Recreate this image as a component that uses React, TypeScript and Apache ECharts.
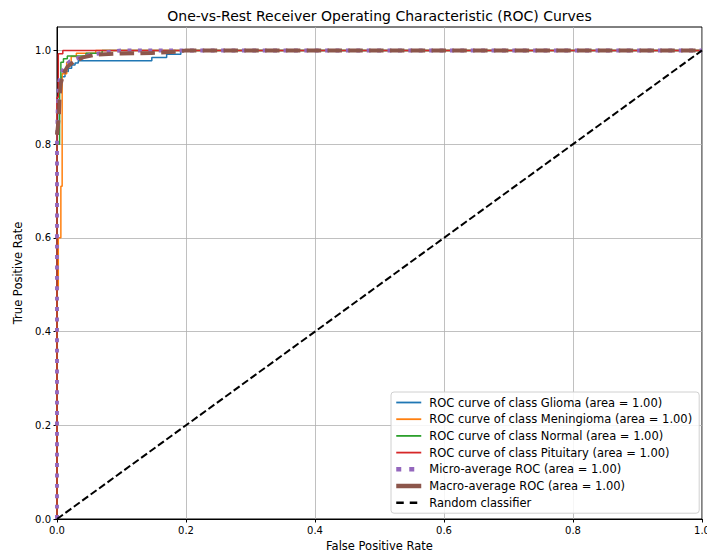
import React, { useEffect, useRef } from "react";
import * as echarts from "echarts";

const titleText = "One-vs-Rest Receiver Operating Characteristic (ROC) Curves";
const xTicks = [0, 0.2, 0.4, 0.6, 0.8, 1.0];
const yTicks = [0, 0.2, 0.4, 0.6, 0.8, 1.0];

const gliomaFpr = [0, 0, 0.0036, 0.0036, 0.0072, 0.0072, 0.0124, 0.0124, 0.0175, 0.0175, 0.0227, 0.0227, 0.028, 0.028, 0.033, 0.033, 0.038, 0.038, 0.147, 0.147, 0.17, 0.17, 0.192, 0.192, 1];
const gliomaTpr = [0, 0.85, 0.85, 0.93, 0.93, 0.944, 0.944, 0.955, 0.955, 0.962, 0.962, 0.969, 0.969, 0.973, 0.973, 0.978, 0.978, 0.978, 0.978, 0.985, 0.985, 0.992, 0.992, 1, 1];

const meningiomaFpr = [0, 0, 0.002, 0.002, 0.006, 0.006, 0.008, 0.008, 0.015, 0.015, 0.022, 0.022, 0.03, 0.03, 0.06, 0.06, 1];
const meningiomaTpr = [0, 0.49, 0.49, 0.6, 0.6, 0.71, 0.71, 0.95, 0.95, 0.975, 0.975, 0.987, 0.987, 0.994, 0.994, 1, 1];

const normalFpr = [0, 0, 0.004, 0.004, 0.006, 0.006, 0.01, 0.01, 0.016, 0.016, 0.045, 0.045, 0.07, 0.07, 1];
const normalTpr = [0, 0.8, 0.8, 0.93, 0.93, 0.975, 0.975, 0.982, 0.982, 0.988, 0.988, 0.994, 0.994, 1, 1];

const pituitaryFpr = [0, 0, 0.002, 0.002, 0.009, 0.009, 1];
const pituitaryTpr = [0, 0.9, 0.9, 0.993, 0.993, 1, 1];

const microFpr = [0, 0, 0.001, 0.003, 0.006, 0.012, 0.02, 0.035, 0.054, 0.08, 0.1, 1];
const microTpr = [0, 0.8, 0.87, 0.93, 0.95, 0.965, 0.977, 0.985, 0.991, 0.997, 1, 1];

const macroFpr = [0, 0.003, 0.004, 0.006, 0.01, 0.016, 0.025, 0.04, 0.06, 0.1, 0.147, 0.17, 0.192, 0.2, 1];
const macroTpr = [0.82, 0.86, 0.9, 0.93, 0.95, 0.965, 0.975, 0.985, 0.991, 0.9935, 0.9945, 0.996, 0.998, 1, 1];

const randomFpr = [0, 1];
const randomTpr = [0, 1];

const seriesNames = [
  "ROC curve of class Glioma (area = 1.00)",
  "ROC curve of class Meningioma (area = 1.00)",
  "ROC curve of class Normal (area = 1.00)",
  "ROC curve of class Pituitary (area = 1.00)",
  "Micro-average ROC (area = 1.00)",
  "Macro-average ROC (area = 1.00)",
  "Random classifier",
];

const zip = (xs: number[], ys: number[]) => xs.map((x, i) => [x, ys[i]]);

const FONT = "DejaVu Sans";

export default function App() {
  const ref = useRef<HTMLDivElement>(null);
  useEffect(() => {
    if (!ref.current) return;
    const chart = echarts.init(ref.current, undefined, { renderer: "svg", width: 707, height: 552 });
    const mk = (name: string, data: number[][], color: string, width: number, type: any) => ({
      name,
      type: "line",
      data,
      showSymbol: false,
      symbol: "none",
      color,
      lineStyle: { color, width, type, cap: "butt" },
      emphasis: { disabled: true },
    });
    const series = [
      mk(seriesNames[0], zip(gliomaFpr, gliomaTpr), "#1f77b4", 1.5, "solid"),
      mk(seriesNames[1], zip(meningiomaFpr, meningiomaTpr), "#ff7f0e", 1.5, "solid"),
      mk(seriesNames[2], zip(normalFpr, normalTpr), "#2ca02c", 1.5, "solid"),
      mk(seriesNames[3], zip(pituitaryFpr, pituitaryTpr), "#d62728", 1.5, "solid"),
      mk(seriesNames[4], zip(microFpr, microTpr), "#9467bd", 3.9, [3.9, 6.5]),
      mk(seriesNames[5], zip(macroFpr, macroTpr), "#8c564b", 3.9, [14.5, 6.3]),
      mk(seriesNames[6], zip(randomFpr, randomTpr), "#000000", 2, [7.3, 3.1]),
    ];
    const legendStyles = [
      { color: "#1f77b4", width: 1.8, type: "solid" },
      { color: "#ff7f0e", width: 1.8, type: "solid" },
      { color: "#2ca02c", width: 1.8, type: "solid" },
      { color: "#d62728", width: 1.8, type: "solid" },
      { color: "#9467bd", width: 4.5, type: [5, 8] },
      { color: "#8c564b", width: 4.5, type: "solid" },
      { color: "#000000", width: 2.5, type: [7.5, 6] },
    ];
    chart.setOption({
      animation: false,
      textStyle: { fontFamily: FONT },
      graphic: [
        {
          type: "text",
          x: 379.5,
          y: 16,
          z: 10,
          style: {
            text: titleText,
            fill: "#000",
            font: `14px "${FONT}"`,
            textAlign: "center",
            textVerticalAlign: "middle",
          },
        },
      ],
      grid: {
        left: 57,
        top: 27,
        width: 645,
        height: 492,
        outerBoundsMode: "none",
        containLabel: false,
        show: true,
        borderColor: "#000",
        borderWidth: 1,
        backgroundColor: "#fff",
      },
      legend: {
        orient: "vertical",
        left: 391,
        top: 392,
        data: seriesNames.map((name, i) => ({
          name,
          lineStyle: { ...legendStyles[i], cap: "butt" },
          itemStyle: { opacity: 0 },
        })),
        itemWidth: 25,
        itemHeight: 12,
        itemGap: 4.7,
        padding: [4.5, 7, 4.5, 3],
        itemStyle: { opacity: 0 },
        backgroundColor: "rgba(255,255,255,0.85)",
        borderColor: "#d0d0d0",
        borderWidth: 1,
        borderRadius: 3,
        textStyle: { fontFamily: FONT, fontSize: 11.5, color: "#000", padding: [0, 0, 0, 3] },
        selectedMode: false,
      },
      xAxis: {
        type: "value",
        min: 0,
        max: 1,
        interval: 0.2,
        name: "False Positive Rate",
        nameLocation: "middle",
        nameGap: 21,
        nameTextStyle: { fontFamily: FONT, fontSize: 11.5, color: "#000" },
        axisLine: { show: true, lineStyle: { color: "#000", width: 1 } },
        axisTick: { show: true, length: 3.5, lineStyle: { color: "#000" } },
        axisLabel: {
          fontFamily: FONT,
          fontSize: 10,
          color: "#000",
          margin: 6,
          formatter: (v: number) => v.toFixed(1),
          customValues: xTicks,
        },
        splitLine: { show: true, lineStyle: { color: "#b0b0b0", width: 0.8 } },
      },
      yAxis: {
        type: "value",
        min: 0,
        max: 1.05,
        interval: 0.2,
        name: "True Positive Rate",
        nameLocation: "middle",
        nameGap: 31,
        nameTextStyle: { fontFamily: FONT, fontSize: 11.5, color: "#000" },
        axisLine: { show: true, lineStyle: { color: "#000", width: 1 } },
        axisTick: { show: true, length: 3.5, lineStyle: { color: "#000" }, customValues: yTicks },
        axisLabel: {
          fontFamily: FONT,
          fontSize: 10,
          color: "#000",
          margin: 6,
          formatter: (v: number) => v.toFixed(1),
          customValues: yTicks,
        },
        splitLine: { show: true, lineStyle: { color: "#b0b0b0", width: 0.8 } },
      },
      series,
    });
    return () => chart.dispose();
  }, []);
  return (
    <div
      ref={ref}
      style={{ position: "fixed", left: 0, top: 0, width: 707, height: 552, background: "#fff" }}
    />
  );
}
